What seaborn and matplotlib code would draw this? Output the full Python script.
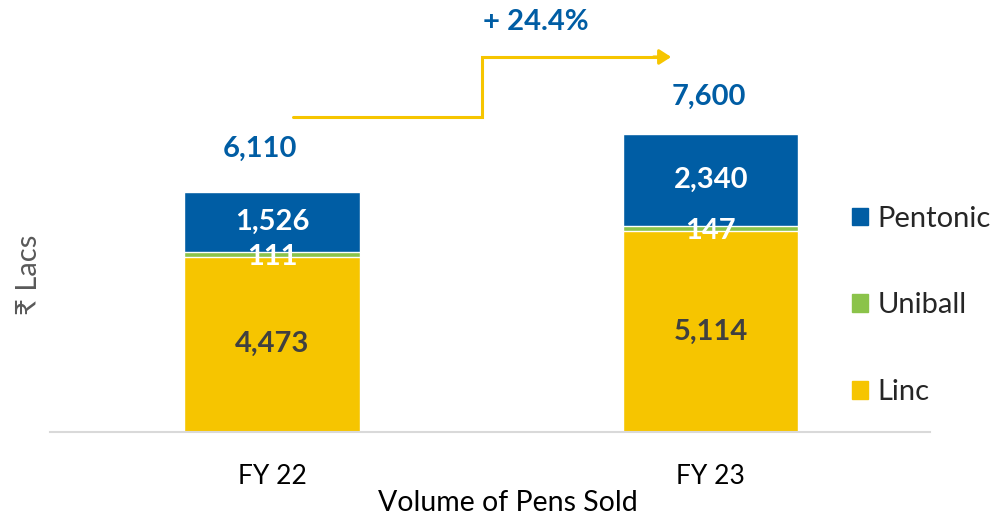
import matplotlib
matplotlib.use('Agg')
import matplotlib.pyplot as plt
import seaborn as sns
import pandas as pd
from matplotlib.patches import Patch

years = ['FY 22', 'FY 23']
linc = [4473, 5114]
uniball = [111, 147]
pentonic = [1526, 2340]
totals = [6110, 7600]
growth = '+ 24.4%'

BLUE = '#005DA4'
GREEN = '#8BC34A'
YELLOW = '#F6C500'
DARK = '#404040'

sns.set_style('white')
plt.rcParams['font.family'] = ['Lato', 'DejaVu Sans']

df = pd.DataFrame({'year': years, 'linc': linc, 'uniball': uniball, 'pentonic': pentonic})
df['lu'] = df['linc'] + df['uniball']
df['total'] = df['lu'] + df['pentonic']

fig = plt.figure(figsize=(9.96, 5.16), dpi=100)
ax = fig.add_axes([0.0502, 0.1628, 0.8835, 0.8372])

# stacked look: draw the cumulative heights from the top down
sns.barplot(data=df, x='year', y='total', color=BLUE, width=0.4, saturation=1, ax=ax)
sns.barplot(data=df, x='year', y='lu', color=GREEN, width=0.4, saturation=1, ax=ax)
sns.barplot(data=df, x='year', y='linc', color=YELLOW, width=0.4, saturation=1, ax=ax)

ax.set_xlim(-0.506, 1.5)
ax.set_ylim(0, 11017)

for i in range(len(years)):
    ax.text(i, linc[i] / 2, f'{linc[i]:,}', ha='center', va='center',
            fontsize=21, fontweight='bold', color=DARK)
    ax.annotate(f'{uniball[i]:,}', (i, linc[i] + uniball[i] / 2), xytext=(0, -2),
                textcoords='offset points', ha='center', va='center',
                fontsize=21, fontweight='bold', color='white')
    ax.text(i, linc[i] + uniball[i] + pentonic[i] / 2, f'{pentonic[i]:,}', ha='center',
            va='center', fontsize=21, fontweight='bold', color='white')

ax.annotate(f'{totals[0]:,}', (0, totals[0]), xytext=(-9, 31), textcoords='offset points',
            ha='center', va='center', fontsize=21, fontweight='bold', color=BLUE)
ax.annotate(f'{totals[1]:,}', (1, totals[1]), xytext=(-1, 27), textcoords='offset points',
            ha='center', va='center', fontsize=21, fontweight='bold', color=BLUE)

# growth step arrow
ax.plot([0.048, 0.478, 0.478, 0.88], [8033, 8033, 9564, 9564], color=YELLOW, lw=2.2,
        solid_joinstyle='miter', clip_on=False)
ax.annotate('', xy=(0.91, 9564), xytext=(0.87, 9564),
            arrowprops=dict(arrowstyle='-|>,head_length=0.7,head_width=0.45',
                            color=YELLOW, lw=2.2, shrinkA=0, shrinkB=0))
ax.text(0.601, 10456, growth, ha='center', va='center', fontsize=21,
        fontweight='bold', color=BLUE)

for s in ['top', 'right', 'left']:
    ax.spines[s].set_visible(False)
ax.spines['bottom'].set_color('#D9D9D9')
ax.spines['bottom'].set_linewidth(1.5)
ax.set_yticks([])
ax.tick_params(axis='x', length=0, pad=23, labelsize=19, labelcolor='black')
ax.set_xlabel('Volume of Pens Sold', fontsize=20.5, color='black')
ax.xaxis.set_label_coords(0.52, -0.135)
ax.set_ylabel('')

fig.text(0.029, 0.467, '₹ Lacs', rotation=90, ha='center', va='center',
         fontsize=21, color='#595959')

handles = [Patch(color=BLUE, label='Pentonic'),
           Patch(color=GREEN, label='Uniball'),
           Patch(color=YELLOW, label='Linc')]
fig.legend(handles=handles, loc='center left', bbox_to_anchor=(0.855, 0.408),
           frameon=False, fontsize=21, handlelength=0.55, handleheight=0.55,
           handletextpad=0.35, labelspacing=2.08, borderaxespad=0, borderpad=0)

fig.savefig('out.png', dpi=100)
